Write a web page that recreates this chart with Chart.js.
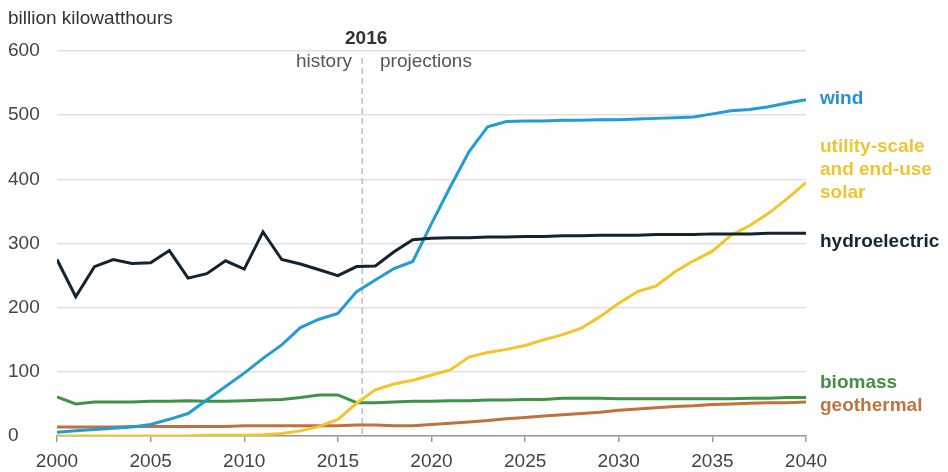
<!DOCTYPE html>
<html>
<head>
<meta charset="utf-8">
<script src="https://cdn.jsdelivr.net/npm/chart.js@4"></script>
<style>
  html, body { margin: 0; padding: 0; background: #ffffff; }
  #wrap { position: relative; width: 948px; height: 472px; font-family: "Liberation Sans", Arial, sans-serif; }
  #wrap canvas { position: absolute; left: 0; top: 0; }
  .lbl { position: absolute; font-size: 19px; line-height: 23px; white-space: nowrap; transform: translateY(-50%); }
  .b { font-weight: bold; }
</style>
</head>
<body>
<div id="wrap">
  <canvas id="c" width="948" height="472"></canvas>
  <div class="lbl" style="left:8px; top:17px; color:#333;">billion kilowatthours</div>
  <div class="lbl b" style="left:345px; top:37px; color:#333;">2016</div>
  <div class="lbl" style="right:596px; top:60px; color:#555;">history</div>
  <div class="lbl" style="left:380px; top:60px; color:#555;">projections</div>
  <div class="lbl b" style="left:820px; top:97px; color:#2493cc;">wind</div>
  <div class="lbl b" style="left:820px; top:168px; color:#f0c434;">utility-scale<br>and end-use<br>solar</div>
  <div class="lbl b" style="left:820px; top:240px; color:#10273a;">hydroelectric</div>
  <div class="lbl b" style="left:820px; top:381px; color:#4a8c46;">biomass</div>
  <div class="lbl b" style="left:820px; top:404px; color:#bb7640;">geothermal</div>
</div>
<script>
const years = [2000,2001,2002,2003,2004,2005,2006,2007,2008,2009,2010,2011,2012,2013,2014,2015,2016,2017,2018,2019,2020,2021,2022,2023,2024,2025,2026,2027,2028,2029,2030,2031,2032,2033,2034,2035,2036,2037,2038,2039,2040];
const hydro = [275,217,264,275,269,270,289,246,253,273,260,318,275,268,259,250,264,265,287,306,308,309,309,310,310,311,311,312,312,313,313,313,314,314,314,315,315,315,316,316,316];
const wind = [6,8,10,12,14,18,26,35,56,77,98,121,142,169,182,191,225,243,261,272,331,388,443,482,490,491,491,492,492,493,493,494,495,496,497,502,507,509,513,519,524];
const solar = [0,0,0,0,0,0,0,0,1,1,1,2,4,8,15,26,51,72,81,87,95,103,123,130,135,141,150,158,168,186,207,225,234,256,273,288,313,328,347,370,395];
const biomass = [61,50,53,53,53,54,54,55,54,54,55,56,57,60,64,64,52,52,53,54,54,55,55,56,56,57,57,59,59,59,58,58,58,58,58,58,58,59,59,60,60];
const geothermal = [14,14,14,14,15,15,15,15,15,15,16,16,16,16,16,16,17,17,16,16,18,20,22,24,27,29,31,33,35,37,40,42,44,46,47,49,50,51,52,52,53];
const xTickValues = [2000,2005,2010,2015,2020,2025,2030,2035,2040];
const yTickValues = [0,100,200,300,400,500,600];
const projectionStart = 2016.3;

function pts(arr) { return years.map((y, i) => ({ x: y, y: arr[i] })); }

const dividerPlugin = {
  id: 'divider',
  beforeDatasetsDraw(chart) {
    const xs = chart.scales.x, area = chart.chartArea;
    const x = xs.getPixelForValue(projectionStart);
    const ctx = chart.ctx;
    ctx.save();
    ctx.strokeStyle = '#bdbdbd';
    ctx.lineWidth = 1.5;
    ctx.setLineDash([6, 4]);
    ctx.beginPath();
    ctx.moveTo(x, area.top + 7);
    ctx.lineTo(x, area.bottom);
    ctx.stroke();
    ctx.restore();
  }
};

const ds = (label, data, color) => ({
  label, data: pts(data), borderColor: color, backgroundColor: color,
  borderWidth: 3, pointRadius: 0, tension: 0, fill: false
});

new Chart(document.getElementById('c'), {
  type: 'line',
  data: {
    datasets: [
      ds('hydroelectric', hydro, '#13232f'),
      ds('wind', wind, '#239bd3'),
      ds('utility-scale and end-use solar', solar, '#f3c52a'),
      ds('biomass', biomass, '#3e9443'),
      ds('geothermal', geothermal, '#c2713b')
    ]
  },
  options: {
    responsive: false,
    animation: false,
    layout: { padding: { top: 51, left: 8, right: 142, bottom: 0 } },
    plugins: { legend: { display: false }, tooltip: { enabled: false } },
    scales: {
      x: {
        type: 'linear', min: 2000, max: 2040,
        afterBuildTicks(scale) { scale.ticks = xTickValues.map(v => ({ value: v })); },
        afterFit(scale) { scale.height = 36; },
        ticks: { callback: v => String(v), color: '#444', padding: 8, maxRotation: 0,
                 font: { family: 'Liberation Sans', size: 19 } },
        grid: { drawOnChartArea: false, drawTicks: true, tickLength: 6, color: '#999', lineWidth: 1.5 },
        border: { display: true, color: '#999', width: 1.5 }
      },
      y: {
        min: 0, max: 600,
        afterBuildTicks(scale) { scale.ticks = yTickValues.map(v => ({ value: v })); },
        afterFit(scale) { scale.width = 49; },
        ticks: { color: '#444', crossAlign: 'far', font: { family: 'Liberation Sans', size: 19 } },
        grid: { color: '#e2e2e2', lineWidth: 1.5, drawTicks: false },
        border: { display: false }
      }
    }
  },
  plugins: [dividerPlugin]
});
</script>
</body>
</html>
